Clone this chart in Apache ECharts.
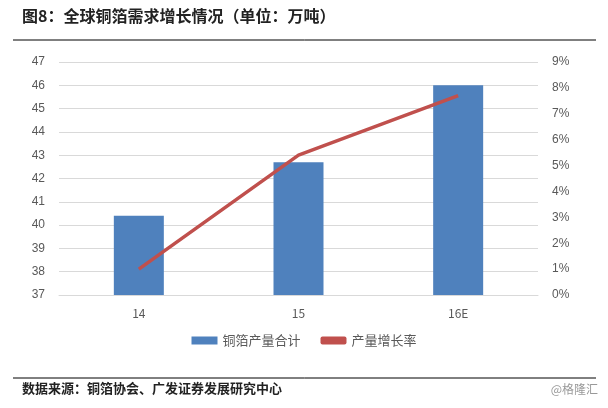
<!DOCTYPE html><html><head><meta charset="utf-8">
<script src="https://cdn.jsdelivr.net/npm/echarts@6/dist/echarts.min.js"></script>
<style>html,body{margin:0;padding:0;background:#fff}#c{width:608px;height:408px}</style></head><body><div id="c"></div>
<script>
const categories=['14','15','16E'];
const output=[40.4,42.7,46.0];
const growth=[1.0,5.4,7.7];
const F='"Noto Sans CJK SC", sans-serif';
const chart=echarts.init(document.getElementById('c'));
chart.setOption({
 animation:false,
 graphic:[
  {type:'text',left:22,top:8,style:{text:'图8：全球铜箔需求增长情况（单位：万吨）',font:'bold 16px '+F,fill:'#222'}},
  {type:'line',shape:{x1:13,y1:40,x2:596,y2:40},style:{stroke:'#000',lineWidth:1}},
  {type:'line',shape:{x1:13,y1:378,x2:596,y2:378},style:{stroke:'#000',lineWidth:1}},
  {type:'text',left:22,top:382,style:{text:'数据来源：铜箔协会、广发证券发展研究中心',font:'bold 13px '+F,fill:'#222'}},
  {type:'text',right:10,top:383,style:{text:'@格隆汇',font:'12px '+F,fill:'#999'}}
 ],
 grid:{left:59,right:70,top:62,bottom:113},
 legend:{bottom:56,left:'center',itemGap:20,itemWidth:26,itemHeight:8,textStyle:{fontFamily:F,fontSize:13,color:'#595959'},
   data:[{name:'铜箔产量合计',icon:'rect'},{name:'产量增长率',icon:'roundRect'}]},
 xAxis:{type:'category',data:categories,axisTick:{show:false},axisLine:{lineStyle:{color:'#d9d9d9'}},
   axisLabel:{color:'#595959',fontFamily:F,fontSize:12,margin:12}},
 yAxis:[
  {type:'value',min:37,max:47,interval:1,axisLine:{show:false},axisTick:{show:false},
   splitLine:{lineStyle:{color:'#d9d9d9'}},axisLabel:{color:'#595959',fontSize:12,margin:14}},
  {type:'value',min:0,max:9,interval:1,axisLine:{show:false},axisTick:{show:false},splitLine:{show:false},
   axisLabel:{color:'#595959',fontSize:12,formatter:'{value}%',margin:14}}
 ],
 series:[
  {name:'铜箔产量合计',type:'bar',data:output,barWidth:50,itemStyle:{color:'#4f81bd'}},
  {name:'产量增长率',type:'line',yAxisIndex:1,data:growth,symbol:'none',lineStyle:{color:'#c0504d',width:3.5},itemStyle:{color:'#c0504d'}}
 ]
});
</script></body></html>
